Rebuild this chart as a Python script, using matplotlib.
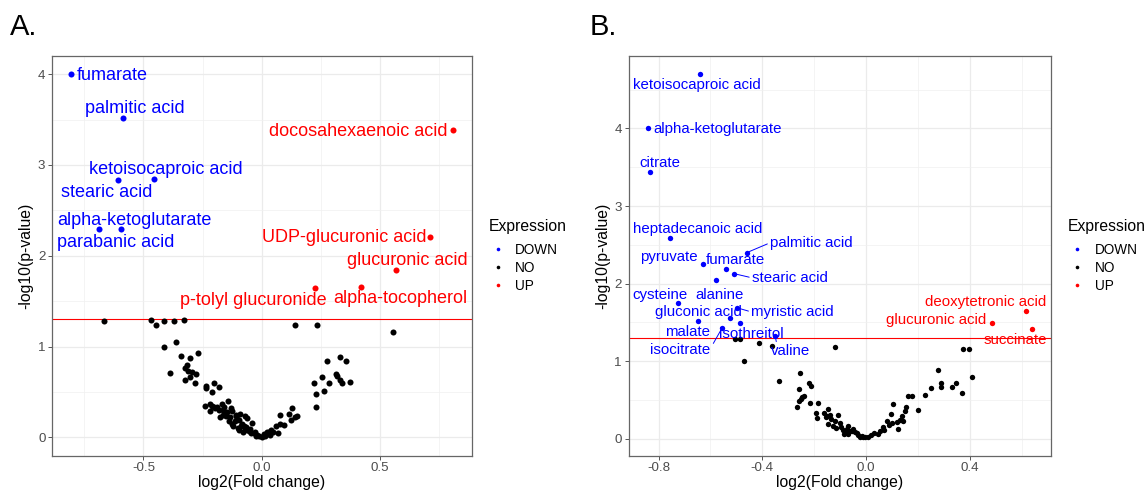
import numpy as np
import matplotlib
matplotlib.use("Agg")
import matplotlib.pyplot as plt
from matplotlib.lines import Line2D
from matplotlib.ticker import MultipleLocator, FormatStrFormatter

plt.rcParams['font.family'] = ['Liberation Sans', 'DejaVu Sans']
plt.rcParams['axes.unicode_minus'] = False

# ---------------- panel A data ----------------
a_no_x = [-0.666, -0.470, -0.448, -0.413, -0.373, -0.327, -0.413, -0.362, -0.386, -0.342,
          -0.303, -0.317, -0.323, -0.269, -0.311, -0.294, -0.279, -0.303, -0.323, -0.283,
          -0.237, -0.237, -0.203, -0.182, -0.211, -0.241, -0.221, -0.211, -0.221, -0.197,
          -0.190, -0.170, -0.164, -0.142, -0.155, -0.131, -0.150, -0.162, -0.175, -0.145,
          -0.125, -0.135, -0.108, -0.092, -0.095, -0.072, -0.075, -0.062, -0.085, -0.065,
          -0.050, -0.030, -0.040, -0.020, -0.010, 0.000, 0.010, 0.020, 0.030, -0.055,
          -0.045, -0.115, -0.120, -0.100, -0.088, -0.070, -0.105, -0.180, -0.160, -0.200,
          -0.140, -0.110, -0.125, -0.095, -0.080, -0.025, -0.035,
          0.040, 0.049, 0.061, 0.077, 0.092, 0.077, 0.117, 0.128, 0.123, 0.142, 0.148, 0.070, 0.035, 0.015,
          0.139, 0.232, 0.554, 0.221, 0.230, 0.227, 0.254, 0.263, 0.275, 0.283, 0.314, 0.317, 0.331,
          0.354, 0.331, 0.339, 0.373]
a_no_y = [1.28, 1.29, 1.235, 1.28, 1.28, 1.287, 1.00, 1.055, 0.706, 0.893,
          0.875, 0.80, 0.76, 0.93, 0.735, 0.724, 0.695, 0.66, 0.632, 0.603,
          0.566, 0.54, 0.596, 0.55, 0.50, 0.346, 0.37, 0.346, 0.294, 0.32,
          0.33, 0.37, 0.30, 0.40, 0.27, 0.32, 0.23, 0.25, 0.22, 0.28,
          0.29, 0.22, 0.23, 0.26, 0.19, 0.23, 0.12, 0.21, 0.15, 0.11,
          0.09, 0.06, 0.16, 0.03, 0.02, 0.00, 0.04, 0.06, 0.06, 0.07,
          0.05, 0.18, 0.12, 0.10, 0.12, 0.08, 0.20, 0.30, 0.33, 0.33,
          0.18, 0.25, 0.15, 0.08, 0.06, 0.02, 0.05,
          0.08, 0.06, 0.12, 0.15, 0.14, 0.25, 0.26, 0.32, 0.19, 0.22, 0.23, 0.05, 0.03, 0.02,
          1.235, 1.235, 1.162, 0.596, 0.474, 0.331, 0.662, 0.515, 0.846, 0.596, 0.695, 0.676, 0.89,
          0.846, 0.632, 0.596, 0.614]

a_down_names = ['fumarate', 'palmitic acid', 'ketoisocaproic acid', 'stearic acid',
                'alpha-ketoglutarate', 'parabanic acid']
a_down_x = [-0.806, -0.586, -0.456, -0.608, -0.594, -0.690]
a_down_y = [4.00, 3.52, 2.85, 2.83, 2.29, 2.29]

a_up_names = ['docosahexaenoic acid', 'UDP-glucuronic acid', 'glucuronic acid',
              'alpha-tocopherol', 'p-tolyl glucuronide']
a_up_x = [0.806, 0.711, 0.566, 0.420, 0.224]
a_up_y = [3.39, 2.21, 1.84, 1.66, 1.64]

# label anchor (left, baseline) in data units
a_down_txt = [(-0.780, 3.934), (-0.746, 3.567), (-0.730, 2.899), (-0.849, 2.642),
              (-0.866, 2.341), (-0.866, 2.099)]
a_up_txt = [(0.032, 3.321), (0.000, 2.147), (0.361, 1.897), (0.303, 1.475), (-0.345, 1.457)]

# ---------------- panel B data ----------------
b_no_x = [-0.504, -0.488, -0.472, -0.411, -0.361, -0.336, -0.254, -0.259, -0.267, -0.258,
          -0.246, -0.239, -0.250, -0.220, -0.214, -0.218, -0.185, -0.193, -0.190, -0.164,
          -0.151, -0.148, -0.139, -0.110, -0.145, -0.126, -0.100, -0.098, -0.068, -0.068,
          -0.062, -0.049, -0.042, -0.030, -0.017, -0.004, -0.120, -0.135, -0.155, -0.090,
          -0.080, -0.075, -0.055, -0.035, -0.025, -0.010, -0.085, -0.115, -0.119,
          0.009, 0.020, 0.030, 0.045, 0.055, 0.064, 0.070, 0.082, 0.095, 0.105,
          0.118, 0.137, 0.150, 0.154, 0.144, 0.160, 0.176, 0.090, 0.100, 0.125,
          0.130, 0.199, 0.227, 0.250, 0.276, 0.289, 0.288, 0.331, 0.347, 0.371,
          0.375, 0.397, 0.410]
b_no_y = [1.29, 1.29, 1.00, 1.236, 1.20, 0.75, 0.854, 0.64, 0.416, 0.485,
          0.545, 0.558, 0.52, 0.725, 0.682, 0.459, 0.459, 0.33, 0.27, 0.33,
          0.30, 0.386, 0.31, 0.31, 0.19, 0.17, 0.21, 0.15, 0.17, 0.064,
          0.107, 0.129, 0.086, 0.056, 0.043, 0.02, 0.23, 0.25, 0.28, 0.12,
          0.09, 0.13, 0.10, 0.07, 0.03, 0.02, 0.06, 0.14, 1.19,
          0.02, 0.05, 0.07, 0.06, 0.10, 0.15, 0.11, 0.236, 0.32, 0.45,
          0.215, 0.30, 0.365, 0.416, 0.236, 0.558, 0.558, 0.18, 0.20, 0.13,
          0.24, 0.373, 0.562, 0.652, 0.884, 0.725, 0.665, 0.665, 0.717, 0.597,
          1.16, 1.16, 0.794]

b_down_names = ['ketoisocaproic acid', 'alpha-ketoglutarate', 'citrate', 'heptadecanoic acid',
                'palmitic acid', 'pyruvate', 'fumarate', 'stearic acid', 'alanine', 'cysteine',
                'myristic acid', 'gluconic acid', 'malate', 'isothreitol', 'isocitrate', 'valine']
b_down_x = [-0.639, -0.842, -0.832, -0.757, -0.460, -0.628, -0.542, -0.510, -0.580, -0.724,
            -0.498, -0.524, -0.648, -0.485, -0.555, -0.350]
b_down_y = [4.70, 4.00, 3.44, 2.59, 2.40, 2.25, 2.19, 2.13, 2.045, 1.75,
            1.69, 1.56, 1.52, 1.49, 1.43, 1.32]

b_up_names = ['deoxytetronic acid', 'glucuronic acid', 'succinate']
b_up_x = [0.615, 0.484, 0.639]
b_up_y = [1.65, 1.49, 1.42]

b_down_txt = [(-0.900, 4.508), (-0.822, 3.940), (-0.873, 3.500), (-0.900, 2.648),
              (-0.370, 2.476), (-0.870, 2.295), (-0.619, 2.260), (-0.440, 2.024),
              (-0.657, 1.808), (-0.900, 1.808), (-0.443, 1.585), (-0.813, 1.585),
              (-0.774, 1.322), (-0.569, 1.305), (-0.832, 1.098), (-0.367, 1.076)]
b_up_txt = [(0.227, 1.709), (0.076, 1.485), (0.452, 1.227)]

# labels joined to their point by a short segment, with the text edge it starts from
b_segments = {'palmitic acid': (0, 0.5), 'stearic acid': (0, 0.5), 'myristic acid': (0, 0.5),
              'isocitrate': (1, 0.6), 'valine': (0.15, 1.0)}

legend_labels = ['DOWN', 'NO', 'UP']

BLUE = '#0000FF'
RED = '#FF0000'


def volcano(ax, no_x, no_y, dn_names, dn_x, dn_y, dn_txt, up_names, up_x, up_y, up_txt,
            label_fs, dot_s, xstep, segments=None):
    segments = segments or {}
    ax.scatter(dn_x, dn_y, s=dot_s, color=BLUE, lw=0, zorder=3)
    ax.scatter(no_x, no_y, s=dot_s, color='black', lw=0, zorder=3)
    ax.scatter(up_x, up_y, s=dot_s, color=RED, lw=0, zorder=3)

    ax.axhline(-np.log10(0.05), color=RED, lw=0.8, zorder=2)

    for names, xs, ys, txt, col in [(dn_names, dn_x, dn_y, dn_txt, BLUE),
                                    (up_names, up_x, up_y, up_txt, RED)]:
        for n, x, y, (tx, ty) in zip(names, xs, ys, txt):
            kw = {}
            if n in segments:
                kw['arrowprops'] = dict(arrowstyle='-', color=col, lw=0.7,
                                        shrinkA=0, shrinkB=2, relpos=segments[n])
            ax.annotate(n, xy=(x, y), xytext=(tx, ty), textcoords='data',
                        ha='left', va='baseline', color=col, fontsize=label_fs, zorder=4, **kw)

    # ggplot style 5% expansion
    allx = list(no_x) + list(dn_x) + list(up_x)
    ally = list(no_y) + list(dn_y) + list(up_y)
    px = 0.05 * (max(allx) - min(allx))
    py = 0.05 * (max(ally) - min(ally))
    ax.set_xlim(min(allx) - px, max(allx) + px)
    ax.set_ylim(min(ally) - py, max(ally) + py)

    ax.xaxis.set_major_locator(MultipleLocator(xstep))
    ax.xaxis.set_minor_locator(MultipleLocator(xstep / 2))
    ax.yaxis.set_major_locator(MultipleLocator(1))
    ax.yaxis.set_minor_locator(MultipleLocator(0.5))
    ax.xaxis.set_major_formatter(FormatStrFormatter('%.1f'))
    ax.yaxis.set_major_formatter(FormatStrFormatter('%d'))

    ax.grid(which='major', color='#EBEBEB', lw=0.9, zorder=0)
    ax.grid(which='minor', color='#F0F0F0', lw=0.5, zorder=0)
    ax.set_axisbelow(True)
    ax.tick_params(which='major', length=2.75, width=0.7, color='#555555',
                   labelcolor='#4D4D4D', labelsize=9.6, pad=2.0)
    ax.tick_params(which='minor', length=0)
    for sp in ax.spines.values():
        sp.set_color('#666666')
        sp.set_linewidth(0.9)

    ax.set_xlabel('log2(Fold change)', fontsize=11.3, labelpad=0.8)
    ax.set_ylabel('-log10(p-value)', fontsize=11.3, labelpad=3)

    # legend: title drawn separately so the gap under it matches ggplot
    ax.text(1.040, 0.573, 'Expression', transform=ax.transAxes, fontsize=11.3,
            ha='left', va='center')
    handles = [Line2D([], [], ls='', marker='o', markersize=2.6, markeredgewidth=0, color=c)
               for c in (BLUE, 'black', RED)]
    ax.legend(handles, legend_labels, loc='center left', bbox_to_anchor=(1.046, 0.470),
              frameon=False, fontsize=9.8, handlelength=1.0, handletextpad=0.78,
              labelspacing=0.3, borderpad=0, borderaxespad=0)


fig = plt.figure(figsize=(11.47, 4.9), dpi=100)
ax_a = fig.add_axes([52 / 1147, 34.5 / 490, 419.6 / 1147, 399.5 / 490])
ax_b = fig.add_axes([628.5 / 1147, 34.5 / 490, 422.5 / 1147, 399.5 / 490])

volcano(ax_a, a_no_x, a_no_y, a_down_names, a_down_x, a_down_y, a_down_txt,
        a_up_names, a_up_x, a_up_y, a_up_txt, label_fs=13, dot_s=19, xstep=0.5)
volcano(ax_b, b_no_x, b_no_y, b_down_names, b_down_x, b_down_y, b_down_txt,
        b_up_names, b_up_x, b_up_y, b_up_txt, label_fs=10.8, dot_s=15, xstep=0.4,
        segments=b_segments)

fig.text(10 / 1147, 1 - 35 / 490, 'A.', fontsize=21, va='baseline', ha='left')
fig.text(590 / 1147, 1 - 35 / 490, 'B.', fontsize=21, va='baseline', ha='left')

fig.savefig('out.png', dpi=100)
